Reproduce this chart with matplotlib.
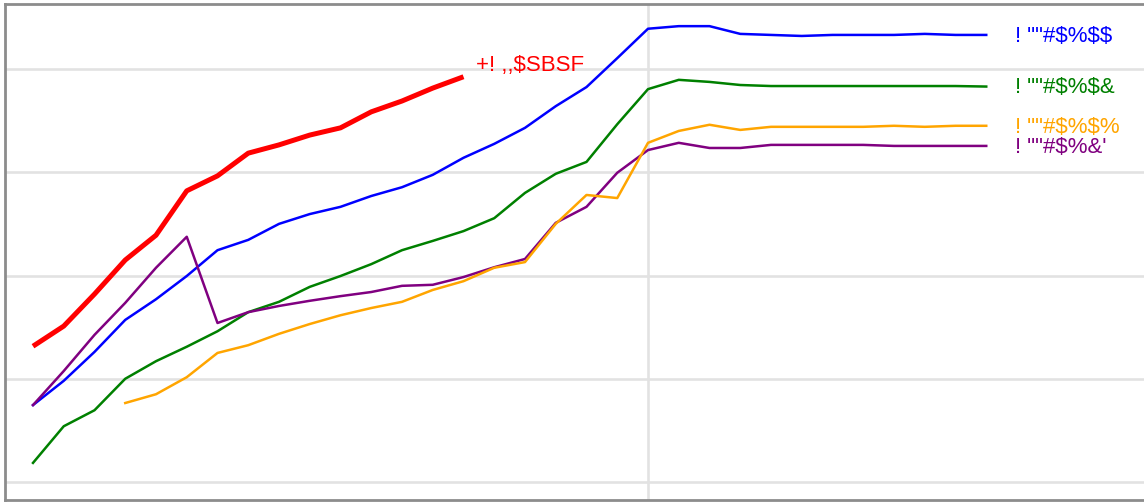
import matplotlib
matplotlib.use("Agg")
import matplotlib.pyplot as plt

x = list(range(32))

red_vals = [26.3, 30.2, 36.4, 43.0, 47.8, 56.4, 59.3, 63.7, 65.3, 67.2, 68.6, 71.7, 73.8, 76.3, 78.5]
blue_vals = [14.9, 19.6, 25.2, 31.4, 35.4, 39.9, 44.9, 46.9, 50.0, 51.9, 53.3, 55.4, 57.1, 59.5, 62.8, 65.5,
             68.6, 72.8, 76.5, 82.1, 87.8, 88.3, 88.3, 86.8, 86.6, 86.4, 86.6, 86.6, 86.6, 86.8, 86.6, 86.6]
green_vals = [3.7, 10.8, 13.9, 20.0, 23.4, 26.2, 29.2, 32.9, 34.9, 37.8, 39.9, 42.2, 44.9, 46.7, 48.6, 51.1,
              56.0, 59.7, 62.0, 69.3, 76.1, 77.9, 77.5, 76.9, 76.7, 76.7, 76.7, 76.7, 76.7, 76.7, 76.7, 76.6]
purple_vals = [14.9, 21.5, 28.5, 34.7, 41.5, 47.5, 30.8, 32.9, 34.1, 35.1, 36.0, 36.8, 38.0, 38.2, 39.7, 41.6,
               43.2, 50.2, 53.3, 59.9, 64.3, 65.7, 64.7, 64.7, 65.3, 65.3, 65.3, 65.3, 65.1, 65.1, 65.1, 65.1]
orange_start = 3
orange_vals = [15.3, 17.0, 20.3, 25.0, 26.5, 28.7, 30.6, 32.3, 33.7, 34.9, 37.2, 38.9, 41.5, 42.6, 50.0,
               55.6, 55.0, 65.7, 68.0, 69.2, 68.2, 68.8, 68.8, 68.8, 68.8, 69.0, 68.8, 69.0, 69.0]

label_red = "+! ,,$SBSF"
label_blue = '! ""#$%$$'
label_green = '! ""#$%$&'
label_orange = '! ""#$%$%'
label_purple = '! ""#$%&\''

ytick_vals = [0, 20, 40, 60, 80]
xtick_vals = [20]

fam = ['Liberation Sans', 'DejaVu Sans']

W, H = 1144, 503
fig = plt.figure(figsize=(W / 100, H / 100), dpi=100)
left_px, right_px, top_px, bottom_px = 5, 1200, 4, 500
ax = fig.add_axes([left_px / W, (H - bottom_px) / H, (right_px - left_px) / W, (bottom_px - top_px) / H])

px_per_x = 30.75
x0_px = 33
ax.set_xlim((left_px - x0_px) / px_per_x, (right_px - x0_px) / px_per_x)
px_per_y = 5.1625
y0_px = 482
ax.set_ylim((y0_px - bottom_px) / px_per_y, (y0_px - top_px) / px_per_y)

ax.set_yticks(ytick_vals)
ax.set_xticks(xtick_vals)
ax.tick_params(length=0, labelleft=False, labelbottom=False)
ax.grid(True, color='#e2e2e2', linewidth=1.9)
ax.set_axisbelow(True)
for s in ax.spines.values():
    s.set_color('#8c8c8c')
    s.set_linewidth(2)

ax.plot(x[:len(red_vals)], red_vals, color='red', linewidth=3.6, solid_capstyle='butt')
ax.plot(x[:len(blue_vals)], blue_vals, color='blue', linewidth=1.8)
ax.plot(x[:len(green_vals)], green_vals, color='green', linewidth=1.8)
ax.plot(x[:len(purple_vals)], purple_vals, color='purple', linewidth=1.8)
ax.plot(x[orange_start:orange_start + len(orange_vals)], orange_vals, color='orange', linewidth=1.8)

fs = 16
ax.annotate(label_red, xy=(len(red_vals) - 1, red_vals[-1]), xytext=(9, 8), textcoords='offset points',
            color='red', fontsize=fs, family=fam, va='center', ha='left', parse_math=False)
for lab, vals, col in [(label_blue, blue_vals, 'blue'), (label_green, green_vals, 'green'),
                       (label_orange, orange_vals, 'orange'), (label_purple, purple_vals, 'purple')]:
    ax.annotate(lab, xy=(31, vals[-1]), xytext=(21, -1), textcoords='offset points',
                color=col, fontsize=fs, family=fam, va='center', ha='left', parse_math=False)

fig.savefig('out.png', dpi=100)
